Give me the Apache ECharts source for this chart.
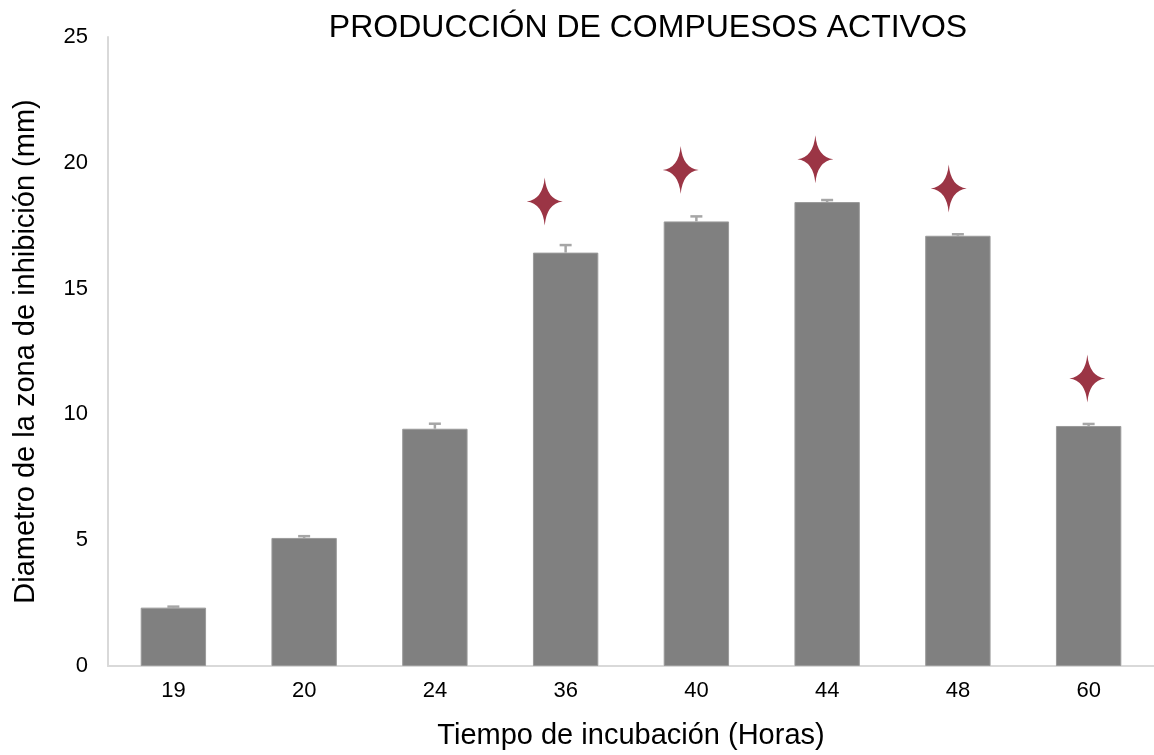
<!DOCTYPE html>
<html>
<head>
<meta charset="utf-8">
<script src="https://cdn.jsdelivr.net/npm/echarts@6/dist/echarts.min.js"></script>
<style>
  html, body { margin: 0; padding: 0; background: #ffffff; }
  #chart { width: 1154px; height: 755px; }
</style>
</head>
<body>
<div id="chart"></div>
<script>
// Incubation times (hours) and mean inhibition-zone diameters (mm)
const categories = ['19', '20', '24', '36', '40', '44', '48', '60'];
const diameters = [2.32, 5.09, 9.43, 16.43, 17.67, 18.44, 17.10, 9.54];
// Upper error (mm) for each bar
const errors = [0.04, 0.07, 0.2, 0.3, 0.2, 0.08, 0.06, 0.08];
// Significance markers: position along the category axis and height (mm)
const starX = [2.84, 3.88, 4.91, 5.93, 6.99];
const starY = [18.46, 19.71, 20.14, 18.98, 11.43];
const yTicks = { min: 0, max: 25, interval: 5 };

const FONT = '"Liberation Sans", Arial, sans-serif';
const STAR_PATH = 'path://M0,-24 Q2,-2 18,0 Q2,2 0,24 Q-2,2 -18,0 Q-2,-2 0,-24 Z';

const chart = echarts.init(document.getElementById('chart'), null, { renderer: 'canvas' });

chart.setOption({
  backgroundColor: '#ffffff',
  animation: false,
  title: {
    text: 'PRODUCCIÓN DE COMPUESOS ACTIVOS',
    left: 643,
    top: 7,
    textAlign: 'center',
    textStyle: { fontFamily: FONT, fontSize: 32, fontWeight: 'normal', color: '#000000' }
  },
  grid: { left: 108, right: -4, top: 37, bottom: 85, containLabel: false },
  xAxis: [
    {
      type: 'category',
      data: categories,
      name: 'Tiempo de incubación (Horas)',
      nameLocation: 'middle',
      nameGap: 55,
      nameTextStyle: { fontFamily: FONT, fontSize: 29, color: '#000000' },
      axisLine: { lineStyle: { color: '#D9D9D9', width: 2 } },
      axisTick: { show: false },
      axisLabel: { fontFamily: FONT, fontSize: 22, color: '#000000', margin: 14 }
    },
    {
      type: 'value',
      min: -0.5,
      max: 7.5,
      show: false
    }
  ],
  yAxis: {
    type: 'value',
    min: yTicks.min,
    max: yTicks.max,
    interval: yTicks.interval,
    name: 'Diametro de la zona de inhibición (mm)',
    nameLocation: 'middle',
    nameGap: 68,
    nameTextStyle: { fontFamily: FONT, fontSize: 29, color: '#000000' },
    axisLine: { show: true, onZero: false, lineStyle: { color: '#D9D9D9', width: 2 } },
    axisTick: { show: false },
    splitLine: { show: false },
    axisLabel: { fontFamily: FONT, fontSize: 22, color: '#000000', margin: 20 }
  },
  series: [
    {
      type: 'bar',
      data: diameters,
      barWidth: '50%',
      itemStyle: { color: '#808080', borderColor: '#9a9a9a', borderWidth: 1 },
      z: 2
    },
    {
      type: 'custom',
      z: 3,
      data: diameters.map((v, i) => [i, v, v + errors[i]]),
      renderItem: function (params, api) {
        const base = api.coord([api.value(0), api.value(1)]);
        const top = api.coord([api.value(0), api.value(2)]);
        const half = 6;
        const style = { stroke: '#A6A6A6', lineWidth: 2.5 };
        return {
          type: 'group',
          children: [
            { type: 'line', shape: { x1: base[0], y1: base[1], x2: top[0], y2: top[1] }, style: style },
            { type: 'line', shape: { x1: top[0] - half, y1: top[1], x2: top[0] + half, y2: top[1] }, style: style }
          ]
        };
      }
    },
    {
      type: 'scatter',
      xAxisIndex: 1,
      data: starX.map((x, i) => [x, starY[i]]),
      symbol: STAR_PATH,
      symbolSize: [36, 48],
      symbolKeepAspect: false,
      itemStyle: { color: '#9B3545', opacity: 1 },
      z: 4
    }
  ]
});
</script>
</body>
</html>
